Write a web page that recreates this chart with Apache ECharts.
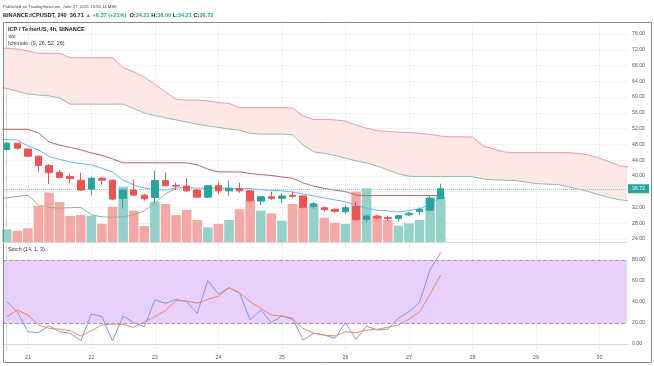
<!DOCTYPE html>
<html><head><meta charset="utf-8">
<script src="https://cdn.jsdelivr.net/npm/echarts@6/dist/echarts.min.js"></script>
<style>html,body{margin:0;padding:0;background:#fff}#c{width:654px;height:366px}</style>
</head><body><div id="c"></div>
<script>
// ---- data (candle index 0 = 20 Jun 16:00, 4h bars; day 21 starts at index 2) ----
const dayLabels = ['21','22','23','24','25','26','27','28','29','30'];
const firstDayIndex = 2;
const barsPerDay = 6;
const priceTicks = [24,28,32,36,40,44,48,52,56,60,64,68,72,76];
const stochTicks = [0,20,40,60,80];
const lastPrice = 36.72;

const opens  = [46.7,48.3,46.8,45.0,42.6,40.9,39.8,38.9,36.6,39.4,38.9,34.3,36.4,35.1,34.5,38.8,37.6,37.4,36.4,34.6,37.5,36.2,36.8,36.2,33.6,34.7,34.3,35.1,34.9,32.2,31.9,31.5,30.9,32.2,29.0,29.8,29.4,29.2,30.1,30.9,31.3,34.21];
const closes = [48.3,47.0,45.0,42.6,40.8,39.6,39.3,36.4,39.4,38.9,34.1,36.4,35.1,34.2,38.8,37.5,37.4,36.2,34.6,37.5,36.2,36.8,36.2,33.7,34.7,34.3,34.9,34.8,32.0,32.9,31.4,31.0,31.9,28.9,29.8,29.3,29.2,29.9,30.5,31.5,34.3,36.72];
const lows   = [46.4,46.7,44.8,41.0,37.9,39.4,38.1,36.2,35.1,37.7,33.9,31.7,35.0,33.7,33.2,37.4,36.4,36.0,34.4,34.4,35.4,35.1,35.7,33.4,32.6,33.9,33.1,34.3,31.7,31.6,30.9,30.6,30.3,28.6,28.2,29.0,28.6,28.4,29.8,30.1,31.1,34.21];
const highs  = [48.6,48.4,46.9,45.1,43.0,41.5,40.6,40.8,39.8,39.6,39.0,36.6,39.1,35.4,41.3,40.8,38.3,39.4,36.6,37.7,38.3,38.8,38.3,36.4,34.9,36.0,35.6,36.0,35.1,33.3,32.3,31.7,32.5,33.4,30.0,30.1,29.9,30.1,30.8,32.0,35.1,38.0];
const volumes = [12.7,11.3,13.7,36,49.3,40,26,27,26.3,18,35.3,55.3,31.3,16,40.3,38,27,32,22,14.7,18,22,32.7,42,31.3,28.7,21.3,38,34.7,38,24.3,19.3,18,50.3,53.7,26,22,16.3,18.7,22,44.5,45.5];

// Ichimoku lines, first value at index -1
const lineStart = -1;
const conversionLine = [49.2,49.2,49.1,47.6,46.6,44.9,44.2,43.5,43.1,42.8,41.9,41.0,38.9,37.7,36.9,36.6,36.4,36.9,37.0,36.9,36.9,36.9,36.9,36.8,36.8,36.5,36.3,36.2,35.9,35.4,34.9,34.4,33.9,33.4,32.6,31.8,31.3,31.1,30.8,31.2,31.6,32.9,34.4];
const baseLine = [51.8,51.8,51.8,51.8,50.9,48.6,47.8,47.2,46.6,45.8,45.2,44.3,43.3,43.3,43.3,43.3,43.3,43.3,43.3,42.8,41.7,41.0,41.0,41.0,40.6,40.3,40.1,39.7,39.4,38.2,37.4,36.8,36.4,36.0,35.1,35.0,35.0,35.0,35.0,35.0,35.0,35.0,35.0];
const laggingSpan = [34.3,34.4,34.75,35.1,32.6,32.0,31.8,31.9,32.0,30.1,29.6,29.5,29.6,30.1,31.1,33.1,35.5,36.72];
const leadingSpanA = [62.5,62.2,61.5,60.8,60.5,60.3,59.75,58.2,58.2,58.2,58.2,58.2,58.2,57.1,55.95,55.3,54.7,54.2,53.65,53.15,52.65,52.3,51.9,51.6,50.8,50.6,50.6,50.6,50.4,47.8,46.1,45.7,45.2,44.5,43.8,43.3,42.5,41.5,40.5,39.9,39.8,39.8,39.8,39.8,39.8,39.8,39.2,39.0,38.9,38.8,38.45,38.05,37.9,37.8,37.3,36.65,36.0,35.15,34.4,33.9,33.6];
const leadingSpanB = [72.4,72.4,72.2,71.7,71.1,71.1,71.1,70.0,70.0,70.0,70.0,70.0,67.5,66.4,65.1,63.2,61.3,59.4,59.25,59.25,59.0,58.6,58.4,57.3,57.3,57.3,57.3,57.3,57.2,55.2,54.35,54.35,54.2,53.9,52.9,52.1,51.5,51.25,51.1,51.0,50.8,50.5,50.1,49.9,49.9,49.85,47.6,46.8,46.05,45.9,45.9,45.9,45.9,45.9,45.9,45.7,45.3,44.5,43.5,42.5,42.2];

// Stochastic (14,1,3), first value at index 0
const stochK = [40.3,30.8,11.7,10.8,17.4,11.7,10.2,3.2,28.6,26,2.9,26.7,20.3,16.5,41.9,38.7,42.5,40.3,29.2,60.3,47.6,53.6,48.3,22.9,32.4,20.3,26.7,24.4,3.8,10.2,8.6,5.4,20.3,4.4,17.1,13.3,14,24.4,30.8,39.5,71,87];
const stochD = [26,32.4,27.6,18.1,14.9,14,12.7,7.6,12.7,18.1,19,18.7,15.9,21.2,26,31.7,41.3,41,38.8,42.5,45.5,53.6,48.9,40.3,34,27.6,26.7,23.5,14.9,10.2,8.6,7.6,11.7,10.8,13.3,14,15.9,18.1,23.5,30.5,47.5,65.7];

// ---- chart ----
const UP = '#26a69a', DOWN = '#ef5350';
const FONT = 'Liberation Sans, Arial, sans-serif';
const pts = (arr, start) => arr.map((v, k) => [start + k, v]);
const dayIdx = dayLabels.map((d, k) => firstDayIndex + k * barsPerDay);
const X_MIN = -0.35, X_MAX = 58.6;
const gridLine = {show: true, lineStyle: {color: '#eff1f5', width: 1}};

const chart = echarts.init(document.getElementById('c'), null, {renderer: 'canvas'});
chart.setOption({
  animation: false,
  backgroundColor: '#fff',
  grid: [
    {left: 3, right: 27, top: 22, height: 220},
    {left: 3, right: 27, top: 242, height: 108}
  ],
  xAxis: [
    {type: 'value', gridIndex: 0, min: X_MIN, max: X_MAX,
     axisLine: {show: false}, axisTick: {show: false, customValues: dayIdx},
     axisLabel: {show: false, customValues: dayIdx}, splitLine: gridLine},
    {type: 'value', gridIndex: 1, min: X_MIN, max: X_MAX,
     axisLine: {show: true, lineStyle: {color: '#d6d6d6'}},
     axisTick: {show: false, customValues: dayIdx},
     axisLabel: {show: true, customValues: dayIdx, margin: 5, fontSize: 5.2, color: '#555', fontFamily: FONT,
       formatter: v => dayLabels[Math.round((v - firstDayIndex) / barsPerDay)]},
     splitLine: gridLine}
  ],
  yAxis: [
    {type: 'value', gridIndex: 0, position: 'right', min: 23.21, max: 79.05,
     axisLine: {show: true, lineStyle: {color: '#d6d6d6'}},
     axisTick: {show: false, customValues: priceTicks},
     axisLabel: {customValues: priceTicks, formatter: v => v.toFixed(2), fontSize: 5.2, color: '#555', margin: 5, fontFamily: FONT},
     splitLine: gridLine},
    {type: 'value', gridIndex: 0, min: 0, max: 220, show: false, splitLine: {show: false}},
    {type: 'value', gridIndex: 1, position: 'right', min: -5.7, max: 97.1,
     axisLine: {show: true, lineStyle: {color: '#d6d6d6'}},
     axisTick: {show: false, customValues: stochTicks},
     axisLabel: {customValues: stochTicks, formatter: v => v.toFixed(2), fontSize: 5.2, color: '#555', margin: 5, fontFamily: FONT},
     splitLine: gridLine}
  ],
  series: [
    {type: 'custom', name: 'cloud', xAxisIndex: 0, yAxisIndex: 0, silent: true, z: 1,
     data: [[0, 50]],
     renderItem: (params, api) => {
       const top = leadingSpanB.map((v, k) => api.coord([lineStart + k, v]));
       const bot = leadingSpanA.map((v, k) => api.coord([lineStart + k, v])).reverse();
       const cs = params.coordSys;
       return {type: 'group',
         clipPath: {type: 'rect', shape: {x: cs.x, y: cs.y, width: cs.width, height: cs.height}},
         children: [{type: 'polygon', shape: {points: top.concat(bot)}, style: {fill: '#fde7e7'}}]};
     }},
    {type: 'line', name: 'Lead 1', xAxisIndex: 0, yAxisIndex: 0, data: pts(leadingSpanA, lineStart),
     symbol: 'none', lineStyle: {color: '#96bf93', width: 1}, z: 2, silent: true},
    {type: 'line', name: 'Lead 2', xAxisIndex: 0, yAxisIndex: 0, data: pts(leadingSpanB, lineStart),
     symbol: 'none', lineStyle: {color: '#ef9a9a', width: 1}, z: 2, silent: true},
    {type: 'bar', name: 'Vol', xAxisIndex: 0, yAxisIndex: 1, barWidth: 9.6, z: 3, silent: true,
     data: volumes.map((v, i) => ({value: [i, v], itemStyle: {color: closes[i] >= opens[i] ? '#93d2cb' : '#f6a8a6'}}))},
    {type: 'line', name: 'Lagging Span', xAxisIndex: 0, yAxisIndex: 0, data: pts(laggingSpan, lineStart),
     symbol: 'none', lineStyle: {color: '#8fb67c', width: 1}, z: 4, silent: true},
    {type: 'line', name: 'Base Line', xAxisIndex: 0, yAxisIndex: 0, data: pts(baseLine, lineStart),
     symbol: 'none', lineStyle: {color: '#b06a68', width: 1}, z: 4, silent: true},
    {type: 'line', name: 'Conversion Line', xAxisIndex: 0, yAxisIndex: 0, data: pts(conversionLine, lineStart),
     symbol: 'none', lineStyle: {color: '#6cb6ef', width: 1}, z: 4, silent: true},
    {type: 'candlestick', name: 'ICPUSDT', xAxisIndex: 0, yAxisIndex: 0, barWidth: 7, z: 5,
     encode: {x: 0, y: [1, 2, 3, 4]},
     data: opens.map((o, i) => [i, o, closes[i], lows[i], highs[i]]),
     itemStyle: {color: UP, color0: DOWN, borderColor: UP, borderColor0: DOWN, borderWidth: 1},
     markLine: {silent: true, symbol: ['none', 'none'], animation: false,
       lineStyle: {color: '#86cfc6', type: 'dotted', width: 1},
       label: {position: 'end', formatter: lastPrice.toFixed(2), color: '#fff', backgroundColor: UP,
         fontSize: 5.2, padding: [2, 4], distance: 1, fontFamily: FONT},
       data: [{yAxis: lastPrice}]}},
    {type: 'line', name: '%K', xAxisIndex: 1, yAxisIndex: 2, data: pts(stochK, 0),
     symbol: 'none', lineStyle: {color: '#7e97ee', width: 1}, z: 4, silent: true,
     markArea: {silent: true, itemStyle: {color: '#e8d0fb'}, data: [[{yAxis: 20}, {yAxis: 80}]]},
     markLine: {silent: true, symbol: ['none', 'none'], label: {show: false},
       lineStyle: {color: '#a792c4', type: 'dashed', width: 1}, data: [{yAxis: 20}, {yAxis: 80}]}},
    {type: 'line', name: '%D', xAxisIndex: 1, yAxisIndex: 2, data: pts(stochD, 0),
     symbol: 'none', lineStyle: {color: '#f2875e', width: 1}, z: 4, silent: true}
  ],
  graphic: [
    {type: 'rect', shape: {x: 3.5, y: 22.5, width: 648, height: 340}, style: {fill: 'none', stroke: '#8a8a8a', lineWidth: 1}, silent: true, z: 100},
    {type: 'line', shape: {x1: 3, y1: 242.5, x2: 627, y2: 242.5}, style: {stroke: '#d6d6d6', lineWidth: 1}, z: 100},
    {type: 'text', x: 3, y: 7, style: {text: 'Published on TradingView.com, June 27, 2021 15:56:14 MSK', fontSize: 4.2, fill: '#444', fontFamily: FONT, verticalAlign: 'middle'}},
    {type: 'text', x: 3, y: 15, style: {
      text: '{d|BINANCE:ICPUSDT, 240  36.71 }{t|▲ +6.37 (+21%)  }{d|O:}{t|34.21 }{d|H:}{t|38.00 }{d|L:}{t|34.21 }{d|C:}{t|36.72}',
      verticalAlign: 'middle', fontFamily: FONT,
      rich: {d: {fontSize: 5.6, fontWeight: 'bold', fill: '#222', fontFamily: FONT}, t: {fontSize: 5.6, fontWeight: 'bold', fill: UP, fontFamily: FONT}}}},
    {type: 'text', x: 8, y: 29, style: {text: 'ICP / TetherUS, 4h, BINANCE', fontSize: 5.6, fontWeight: 'bold', fill: '#222', fontFamily: FONT, verticalAlign: 'middle'}},
    {type: 'text', x: 8, y: 36.5, style: {text: 'Vol', fontSize: 5.4, fill: '#333', fontFamily: FONT, verticalAlign: 'middle'}},
    {type: 'text', x: 8, y: 44, style: {text: 'Ichimoku (9, 26, 52, 26)', fontSize: 5.4, fill: '#333', fontFamily: FONT, verticalAlign: 'middle'}},
    {type: 'text', x: 8, y: 249.5, style: {text: 'Stoch (14, 1, 3)', fontSize: 5.4, fill: '#333', fontFamily: FONT, verticalAlign: 'middle'}}
  ]
});
</script></body></html>
